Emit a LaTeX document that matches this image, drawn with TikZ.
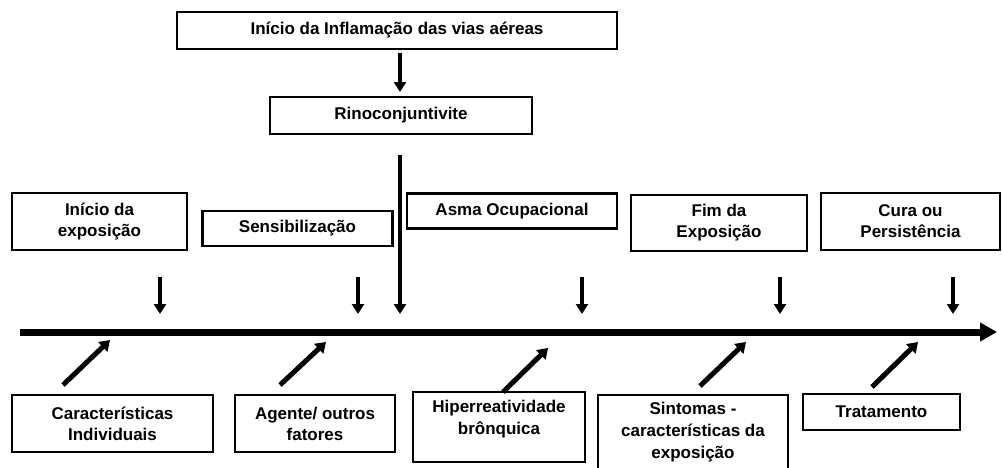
\documentclass[tikz,border=0pt]{standalone}
\usepackage{fontspec}
\setmainfont{Liberation Sans}
\usetikzlibrary{arrows.meta}
\begin{document}
\begin{tikzpicture}[x=1pt,y=-1pt,
  box/.style={draw, line width=2.5pt, rectangle, inner sep=0pt, align=center,
    font=\fontsize{17}{21}\selectfont\bfseries},
  lbl/.style={inner sep=0pt, align=center, font=\fontsize{17}{22}\selectfont\bfseries},
  darrow/.style={line width=4pt, -{Triangle[length=10pt,width=12pt]}},
  diagarrow/.style={line width=5pt, -{Triangle[length=10pt,width=13pt]}},
  axisarrow/.style={line width=7pt, -{Triangle[length=17pt,width=18pt]}}]
\useasboundingbox (0,0) rectangle (1002,467);

% top chain
\node[box, minimum width=440pt, minimum height=37pt] (infl) at (397,30.5) {Início da Inflamação das vias aéreas};
\node[box, minimum width=262pt, minimum height=37pt] (rino) at (401,115.5) {Rinoconjuntivite};

% upper boxes
\node[box, minimum width=175pt, minimum height=57pt] (inicio) at (99.5,221.5) {Início da\\exposição};
\node[box, minimum width=190pt, minimum height=35pt] (sens) at (297.5,228.5) {Sensibilização};
\node[box, minimum width=210pt, minimum height=35pt] (asma) at (512,211) {Asma Ocupacional};
\node[box, minimum width=176pt, minimum height=56pt] (fim) at (719,223) {Fim da\\Exposição};
\node[box, minimum width=179pt, minimum height=57pt] (cura) at (910.5,221.5) {Cura ou\\Persistência};

% lower boxes
\node[box, minimum width=201pt, minimum height=57pt] (caract) at (112.5,423.5) {Características\\Individuais};
\node[box, minimum width=160pt, minimum height=57pt] (agente) at (315,423.5) {Agente/ outros\\fatores};
\node[box, minimum width=172pt, minimum height=70pt] (hiper) at (499,427) {};
\node[lbl] (hipertxt) at (499,419.5) {Hiperreatividade\\brônquica};
\node[box, minimum width=190pt, minimum height=85pt] (sint) at (693,437.5) {};
\node[lbl] (sinttxt) at (693,432.5) {Sintomas -\\características da\\exposição};
\node[box, minimum width=157pt, minimum height=36pt] (trat) at (881.5,412) {Tratamento};

% axis
\coordinate (ax0) at (20,332);
\coordinate (ax1) at (997,332);
\draw[axisarrow] (ax0) -- (ax1);

% top arrows
\coordinate (a0s) at (400,53);
\coordinate (a0e) at (400,92);
\draw[darrow] (a0s) -- (a0e);
\coordinate (vls) at (400,155);
\coordinate (vle) at (400,314);
\draw[darrow] (vls) -- (vle);

% down arrows
\foreach \x/\n in {160/d1, 358/d2, 582/d3, 780/d4, 953/d5}{
  \coordinate (\n s) at (\x,277);
  \coordinate (\n e) at (\x,314);
  \draw[darrow] (\n s) -- (\n e);
}

% diagonal arrows
\coordinate (g1s) at (63,385);  \coordinate (g1e) at (110,340);
\coordinate (g2s) at (280,385); \coordinate (g2e) at (326,342);
\coordinate (g3s) at (503,392); \coordinate (g3e) at (548,348);
\coordinate (g4s) at (700,386); \coordinate (g4e) at (746,342);
\coordinate (g5s) at (872,387); \coordinate (g5e) at (918,342);
\draw[diagarrow] (g1s) -- (g1e);
\draw[diagarrow] (g2s) -- (g2e);
\draw[diagarrow] (g3s) -- (g3e);
\draw[diagarrow] (g4s) -- (g4e);
\draw[diagarrow] (g5s) -- (g5e);
\end{tikzpicture}
\end{document}
